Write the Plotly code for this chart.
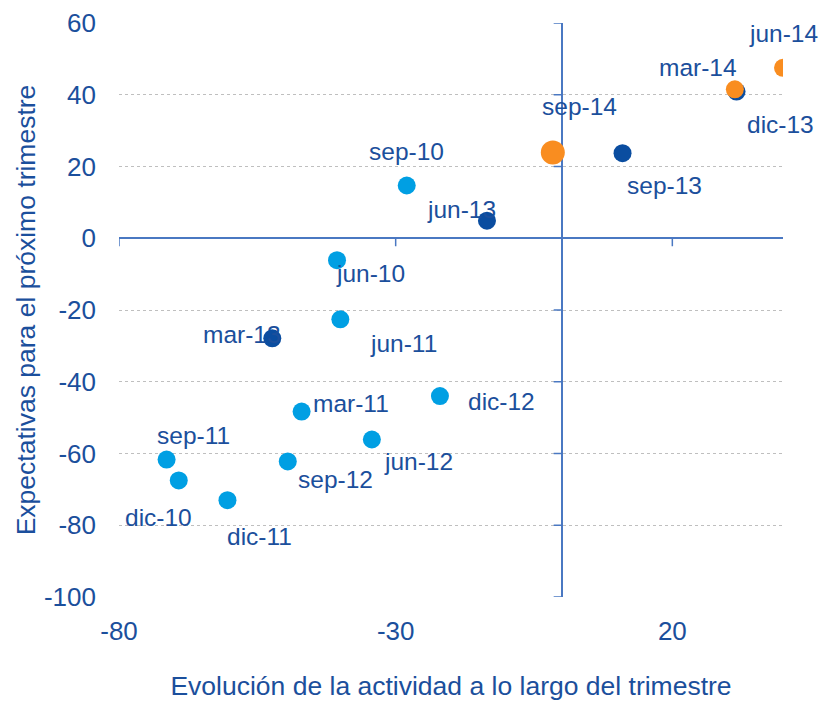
import plotly.graph_objects as go

# ---- data ----
labels_light = ["sep-10", "jun-10", "jun-11", "mar-11", "jun-12", "sep-11", "dic-10", "dic-11", "sep-12", "dic-12"]
x_light = [-28.0, -40.6, -40.0, -47.0, -34.3, -71.4, -69.2, -60.4, -49.5, -22.0]
y_light = [14.7, -6.1, -22.6, -48.3, -56.1, -61.7, -67.5, -73.0, -62.2, -44.0]

labels_dark = ["mar-13", "jun-13", "sep-13", "dic-13"]
x_dark = [-52.3, -13.5, 11.0, 31.6]
y_dark = [-27.9, 4.9, 23.7, 40.9]

labels_orange = ["mar-14", "jun-14"]
x_orange = [31.3, 40.0]
y_orange = [41.5, 47.5]

labels_last = ["sep-14"]
x_last = [-1.6]
y_last = [23.9]

x_ticks = [-80, -30, 20]
x_ticktext = ["-80", "-30", "20"]
y_ticks = [-100, -80, -60, -40, -20, 0, 20, 40, 60]
y_ticktext = ["-100", "-80", "-60", "-40", "-20", "0", "20", "40", "60"]

# label offsets in pixels (style)
label_offsets = {
    "sep-10": (0, 34), "jun-10": (33, -13), "jun-11": (63, -24), "mar-13": (-30, 4),
    "mar-11": (49, 8), "jun-12": (47, -22), "sep-11": (27, 24), "dic-10": (-20, -37),
    "dic-11": (32, -36), "sep-12": (48, -18), "dic-12": (62, -5), "jun-13": (-25, 11),
    "sep-14": (27, 46), "sep-13": (42, -32), "dic-13": (44, -33), "mar-14": (-37, 22),
    "jun-14": (0, 34),
}

TEXT = "#1B4F9C"
LINE = "#4A78C2"
FONT = "Liberation Sans, Arial, sans-serif"
LABEL_SIZE = 24.5
TICK_SIZE = 26
TITLE_SIZE = 26.5

fig = go.Figure()
fig.add_trace(go.Scatter(x=x_light, y=y_light, mode="markers",
                         marker=dict(size=18, color="#009FE3"), hoverinfo="skip"))
fig.add_trace(go.Scatter(x=x_dark, y=y_dark, mode="markers",
                         marker=dict(size=18, color="#0A4DA0"), hoverinfo="skip"))
fig.add_trace(go.Scatter(x=x_orange, y=y_orange, mode="markers",
                         marker=dict(size=18, color="#F98D20"), hoverinfo="skip"))
fig.add_trace(go.Scatter(x=x_last, y=y_last, mode="markers",
                         marker=dict(size=24, color="#F98D20"), hoverinfo="skip"))

annotations = []
for labs, xs, ys in [(labels_light, x_light, y_light), (labels_dark, x_dark, y_dark),
                     (labels_orange, x_orange, y_orange), (labels_last, x_last, y_last)]:
    for lab, xv, yv in zip(labs, xs, ys):
        dx, dy = label_offsets[lab]
        annotations.append(dict(x=xv, y=yv, xref="x", yref="y", text=lab, showarrow=False,
                                xshift=dx, yshift=dy,
                                font=dict(size=LABEL_SIZE, color=TEXT, family=FONT)))

shapes = []
for xt in x_ticks:
    shapes.append(dict(type="line", xref="x", yref="y", ysizemode="pixel", yanchor=0,
                       x0=xt, x1=xt, y0=0, y1=-8, line=dict(color=LINE, width=1.5)))
for yt in y_ticks:
    shapes.append(dict(type="line", xref="x", yref="y", xsizemode="pixel", xanchor=0,
                       x0=-8, x1=0, y0=yt, y1=yt, line=dict(color=LINE, width=1.5)))

fig.update_layout(
    width=821, height=702,
    margin=dict(l=119, r=38, t=23, b=105),
    paper_bgcolor="white", plot_bgcolor="white",
    showlegend=False,
    font=dict(family=FONT, size=LABEL_SIZE, color=TEXT),
    annotations=annotations,
    shapes=shapes,
    xaxis=dict(range=[-80, 40], tickvals=x_ticks, ticktext=x_ticktext, showgrid=False,
               zeroline=True, zerolinecolor=LINE, zerolinewidth=1.5, showline=False, ticks="",
               automargin=False,
               tickfont=dict(size=TICK_SIZE, color=TEXT), ticklabelstandoff=16,
               title=dict(text="Evolución de la actividad a lo largo del trimestre",
                          font=dict(size=TITLE_SIZE, color=TEXT), standoff=31)),
    yaxis=dict(range=[-100, 60], tickvals=y_ticks, ticktext=y_ticktext, showgrid=True,
               gridcolor="#BFBFBF", griddash="dot", gridwidth=1, zeroline=True,
               zerolinecolor=LINE, zerolinewidth=1.5, showline=False, ticks="",
               automargin=False,
               tickfont=dict(size=TICK_SIZE, color=TEXT), ticklabelstandoff=22,
               title=dict(text="Expectativas para el próximo trimestre",
                          font=dict(size=TITLE_SIZE, color=TEXT), standoff=0)),
)

fig.write_html("out.html", config={"displayModeBar": False},
               post_script="document.body.style.margin='0';document.body.style.overflow='hidden';")
